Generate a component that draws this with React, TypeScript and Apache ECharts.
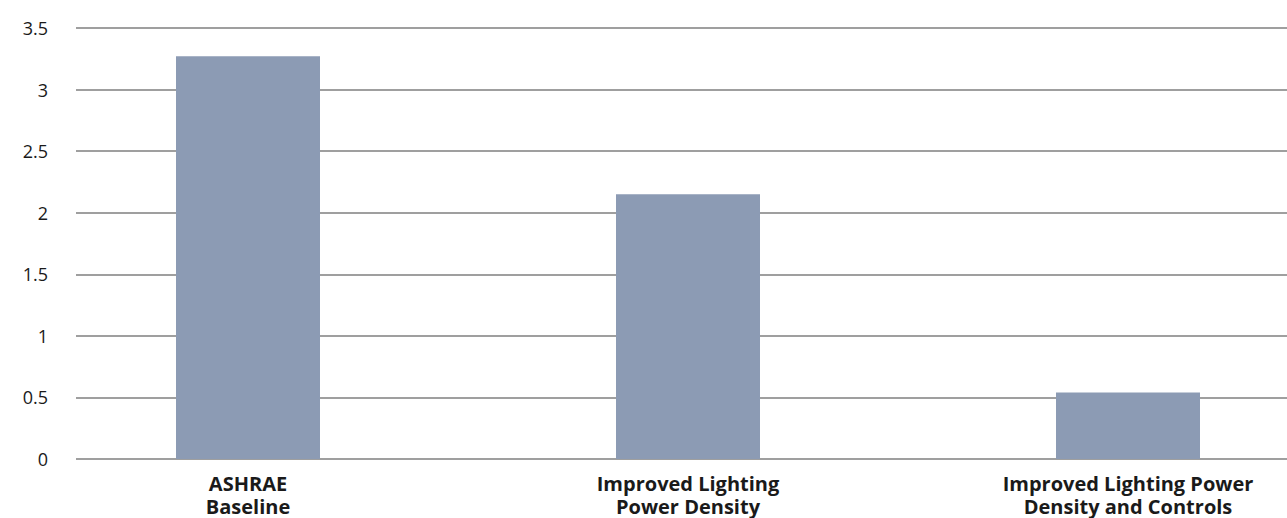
import React, { useEffect, useRef } from "react";
import * as echarts from "echarts";

const categories = ["ASHRAE\nBaseline", "Improved Lighting\nPower Density", "Improved Lighting Power\nDensity and Controls"];
const values = [3.27, 2.15, 0.54];
const yMin = 0;
const yMax = 3.5;
const yInterval = 0.5;

export default function App() {
  const ref = useRef<HTMLDivElement>(null);
  useEffect(() => {
    if (!ref.current) return;
    document.body.style.margin = "0";
    const chart = echarts.init(ref.current, null, { renderer: "svg" });
    chart.setOption({
      animation: false,
      backgroundColor: "#ffffff",
      grid: [
        { left: 76, right: 0, top: 28, bottom: 59, containLabel: false, outerBoundsMode: "none" },
        { left: 28, width: 1320, top: 28, bottom: 59, containLabel: false, outerBoundsMode: "none" },
      ],
      xAxis: [
        { gridIndex: 0, type: "value", show: false, min: 0, max: 1 },
        {
          gridIndex: 1,
          type: "category",
          data: categories,
          axisLine: { show: false },
          axisTick: { show: false },
          axisLabel: {
            interval: 0,
            margin: 13,
            color: "#1a1a1a",
            fontFamily: "Open Sans",
            fontWeight: "bold",
            fontSize: 20,
            lineHeight: 23,
          },
        },
      ],
      yAxis: [
        {
          gridIndex: 0,
          type: "value",
          min: yMin,
          max: yMax,
          interval: yInterval,
          axisLine: { show: false },
          axisTick: { show: false },
          axisLabel: {
            margin: 28,
            color: "#1a1a1a",
            fontFamily: "Open Sans",
            fontSize: 18,
          },
          splitLine: { show: true, lineStyle: { color: "#7f7f7f", width: 1.5 } },
        },
        {
          gridIndex: 1,
          type: "value",
          min: yMin,
          max: yMax,
          interval: yInterval,
          show: false,
          splitLine: { show: false },
        },
      ],
      series: [
        {
          type: "bar",
          xAxisIndex: 1,
          yAxisIndex: 1,
          data: values,
          barWidth: 144,
          itemStyle: { color: "#8c9bb4" },
        },
      ],
    });
    return () => chart.dispose();
  }, []);
  return <div ref={ref} style={{ width: 1287, height: 518 }} />;
}
